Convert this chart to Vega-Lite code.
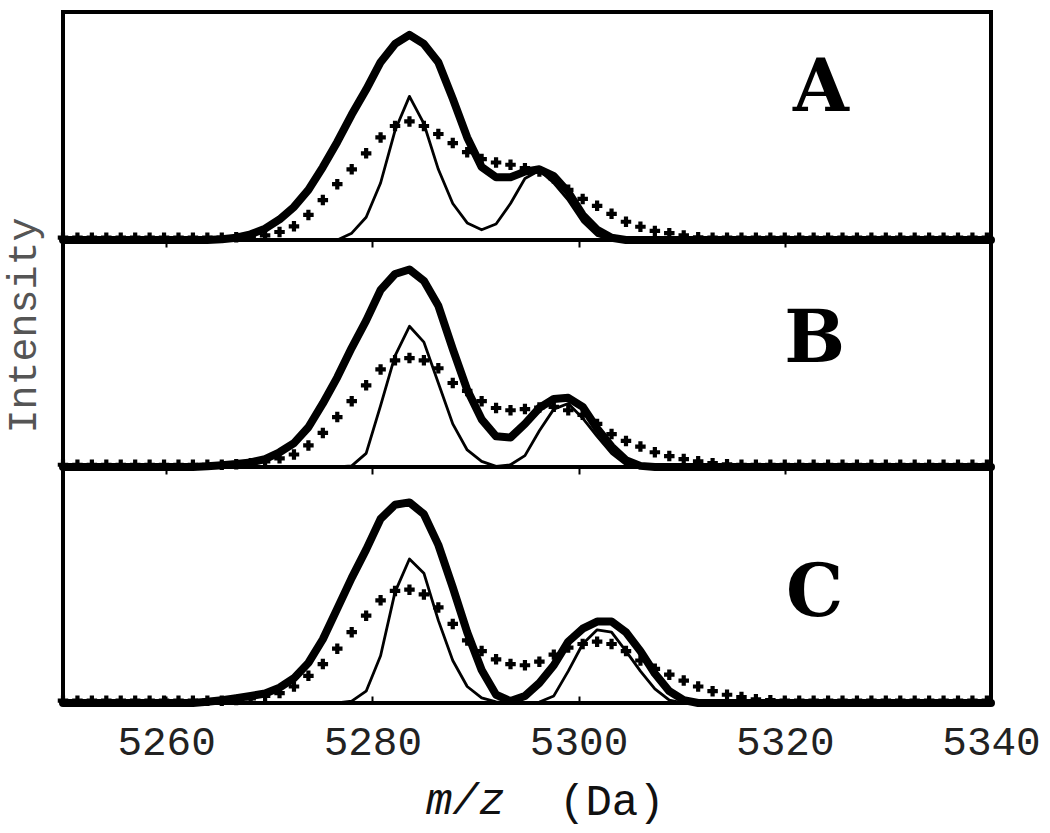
{
  "$schema": "https://vega.github.io/schema/vega-lite/v6.json",
  "background": "white",
  "padding": {"left": 0, "top": 10, "right": 10, "bottom": 0},
  "bounds": "flush",
  "spacing": 0,
  "config": {
    "view": {"stroke": "black", "strokeWidth": 4},
    "axis": {"grid": false},
    "font": "Liberation Mono"
  },
  "title": {"text": "(Da)", "orient": "bottom", "anchor": "start", "frame": "group", "dx": 496, "offset": -44, "font": "Liberation Mono", "fontSize": 44, "fontWeight": "normal", "color": "#111", "baseline": "top"},
  "data": {"values": [
    {"p":"A","m":5250,"k":0,"n":0,"c":0.01},{"p":"A","m":5251.4,"k":0,"n":0,"c":0.01},{"p":"A","m":5252.8,"k":0,"n":0,"c":0.01},{"p":"A","m":5254.2,"k":0,"n":0,"c":0.01},{"p":"A","m":5255.6,"k":0,"n":0,"c":0.01},{"p":"A","m":5257,"k":0,"n":0,"c":0.01},{"p":"A","m":5258.4,"k":0,"n":0,"c":0.01},{"p":"A","m":5259.8,"k":0,"n":0,"c":0.01},{"p":"A","m":5261.2,"k":0,"n":0,"c":0.01},{"p":"A","m":5262.6,"k":0,"n":0,"c":0.01},
    {"p":"A","m":5264,"k":0,"n":0,"c":0.01},{"p":"A","m":5265.4,"k":0.003,"n":0,"c":0.01},{"p":"A","m":5266.8,"k":0.01,"n":0,"c":0.012},{"p":"A","m":5268.2,"k":0.025,"n":0,"c":0.015},{"p":"A","m":5269.6,"k":0.05,"n":0,"c":0.02},{"p":"A","m":5271,"k":0.09,"n":0,"c":0.035},{"p":"A","m":5272.4,"k":0.145,"n":0,"c":0.06},{"p":"A","m":5273.8,"k":0.22,"n":0,"c":0.11},{"p":"A","m":5275.2,"k":0.32,"n":0,"c":0.175},{"p":"A","m":5276.6,"k":0.43,"n":0,"c":0.245},
    {"p":"A","m":5278,"k":0.55,"n":0.03,"c":0.31},{"p":"A","m":5279.4,"k":0.66,"n":0.1,"c":0.38},{"p":"A","m":5280.8,"k":0.78,"n":0.25,"c":0.45},{"p":"A","m":5282.2,"k":0.86,"n":0.48,"c":0.5},{"p":"A","m":5283.6,"k":0.9,"n":0.63,"c":0.52},{"p":"A","m":5285,"k":0.86,"n":0.51,"c":0.5},{"p":"A","m":5286.4,"k":0.78,"n":0.31,"c":0.465},{"p":"A","m":5287.8,"k":0.62,"n":0.16,"c":0.425},{"p":"A","m":5289.2,"k":0.45,"n":0.075,"c":0.385},{"p":"A","m":5290.6,"k":0.32,"n":0.045,"c":0.355},
    {"p":"A","m":5292,"k":0.275,"n":0.07,"c":0.34},{"p":"A","m":5293.4,"k":0.275,"n":0.16,"c":0.33},{"p":"A","m":5294.8,"k":0.3,"n":0.27,"c":0.315},{"p":"A","m":5296.2,"k":0.31,"n":0.305,"c":0.3},{"p":"A","m":5297.6,"k":0.28,"n":0.25,"c":0.27},{"p":"A","m":5299,"k":0.21,"n":0.175,"c":0.22},{"p":"A","m":5300.4,"k":0.11,"n":0.08,"c":0.18},{"p":"A","m":5301.8,"k":0.045,"n":0.02,"c":0.15},{"p":"A","m":5303.2,"k":0.01,"n":0,"c":0.115},{"p":"A","m":5304.6,"k":0,"n":0,"c":0.08},
    {"p":"A","m":5306,"k":0,"n":0,"c":0.058},{"p":"A","m":5307.4,"k":0,"n":0,"c":0.04},{"p":"A","m":5308.8,"k":0,"n":0,"c":0.03},{"p":"A","m":5310.2,"k":0,"n":0,"c":0.02},{"p":"A","m":5311.6,"k":0,"n":0,"c":0.012},{"p":"A","m":5313,"k":0,"n":0,"c":0.01},{"p":"A","m":5314.4,"k":0,"n":0,"c":0.01},{"p":"A","m":5315.8,"k":0,"n":0,"c":0.01},{"p":"A","m":5317.2,"k":0,"n":0,"c":0.01},{"p":"A","m":5318.6,"k":0,"n":0,"c":0.01},
    {"p":"A","m":5320,"k":0,"n":0,"c":0.01},{"p":"A","m":5321.4,"k":0,"n":0,"c":0.01},{"p":"A","m":5322.8,"k":0,"n":0,"c":0.01},{"p":"A","m":5324.2,"k":0,"n":0,"c":0.01},{"p":"A","m":5325.6,"k":0,"n":0,"c":0.01},{"p":"A","m":5327,"k":0,"n":0,"c":0.01},{"p":"A","m":5328.4,"k":0,"n":0,"c":0.01},{"p":"A","m":5329.8,"k":0,"n":0,"c":0.01},{"p":"A","m":5331.2,"k":0,"n":0,"c":0.01},{"p":"A","m":5332.6,"k":0,"n":0,"c":0.01},
    {"p":"A","m":5334,"k":0,"n":0,"c":0.01},{"p":"A","m":5335.4,"k":0,"n":0,"c":0.01},{"p":"A","m":5336.8,"k":0,"n":0,"c":0.01},{"p":"A","m":5338.2,"k":0,"n":0,"c":0.01},{"p":"A","m":5339.6,"k":0,"n":0,"c":0.01},{"p":"A","m":5340,"k":0,"n":0},

    {"p":"B","m":5250,"k":0,"n":0,"c":0.01},{"p":"B","m":5251.4,"k":0,"n":0,"c":0.01},{"p":"B","m":5252.8,"k":0,"n":0,"c":0.01},{"p":"B","m":5254.2,"k":0,"n":0,"c":0.01},{"p":"B","m":5255.6,"k":0,"n":0,"c":0.01},{"p":"B","m":5257,"k":0,"n":0,"c":0.01},{"p":"B","m":5258.4,"k":0,"n":0,"c":0.01},{"p":"B","m":5259.8,"k":0,"n":0,"c":0.01},{"p":"B","m":5261.2,"k":0,"n":0,"c":0.01},{"p":"B","m":5262.6,"k":0,"n":0,"c":0.01},
    {"p":"B","m":5264,"k":0.003,"n":0,"c":0.01},{"p":"B","m":5265.4,"k":0.008,"n":0,"c":0.01},{"p":"B","m":5266.8,"k":0.013,"n":0,"c":0.012},{"p":"B","m":5268.2,"k":0.02,"n":0,"c":0.017},{"p":"B","m":5269.6,"k":0.035,"n":0,"c":0.025},{"p":"B","m":5271,"k":0.065,"n":0,"c":0.038},{"p":"B","m":5272.4,"k":0.105,"n":0,"c":0.055},{"p":"B","m":5273.8,"k":0.175,"n":0,"c":0.095},{"p":"B","m":5275.2,"k":0.28,"n":0,"c":0.15},{"p":"B","m":5276.6,"k":0.395,"n":0,"c":0.22},
    {"p":"B","m":5278,"k":0.525,"n":0.005,"c":0.29},{"p":"B","m":5279.4,"k":0.645,"n":0.06,"c":0.36},{"p":"B","m":5280.8,"k":0.78,"n":0.27,"c":0.43},{"p":"B","m":5282.2,"k":0.85,"n":0.49,"c":0.47},{"p":"B","m":5283.6,"k":0.87,"n":0.62,"c":0.48},{"p":"B","m":5285,"k":0.82,"n":0.55,"c":0.47},{"p":"B","m":5286.4,"k":0.71,"n":0.37,"c":0.435},{"p":"B","m":5287.8,"k":0.52,"n":0.19,"c":0.37},{"p":"B","m":5289.2,"k":0.34,"n":0.075,"c":0.335},{"p":"B","m":5290.6,"k":0.21,"n":0.025,"c":0.29},
    {"p":"B","m":5292,"k":0.135,"n":0.003,"c":0.26},{"p":"B","m":5293.4,"k":0.13,"n":0.01,"c":0.25},{"p":"B","m":5294.8,"k":0.19,"n":0.05,"c":0.255},{"p":"B","m":5296.2,"k":0.26,"n":0.16,"c":0.262},{"p":"B","m":5297.6,"k":0.3,"n":0.255,"c":0.265},{"p":"B","m":5299,"k":0.305,"n":0.28,"c":0.25},{"p":"B","m":5300.4,"k":0.265,"n":0.215,"c":0.23},{"p":"B","m":5301.8,"k":0.17,"n":0.135,"c":0.19},{"p":"B","m":5303.2,"k":0.09,"n":0.06,"c":0.145},{"p":"B","m":5304.6,"k":0.03,"n":0.01,"c":0.115},
    {"p":"B","m":5306,"k":0.005,"n":0,"c":0.09},{"p":"B","m":5307.4,"k":0,"n":0,"c":0.065},{"p":"B","m":5308.8,"k":0,"n":0,"c":0.048},{"p":"B","m":5310.2,"k":0,"n":0,"c":0.035},{"p":"B","m":5311.6,"k":0,"n":0,"c":0.025},{"p":"B","m":5313,"k":0,"n":0,"c":0.017},{"p":"B","m":5314.4,"k":0,"n":0,"c":0.012},{"p":"B","m":5315.8,"k":0,"n":0,"c":0.01},{"p":"B","m":5317.2,"k":0,"n":0,"c":0.01},{"p":"B","m":5318.6,"k":0,"n":0,"c":0.01},
    {"p":"B","m":5320,"k":0,"n":0,"c":0.01},{"p":"B","m":5321.4,"k":0,"n":0,"c":0.01},{"p":"B","m":5322.8,"k":0,"n":0,"c":0.01},{"p":"B","m":5324.2,"k":0,"n":0,"c":0.01},{"p":"B","m":5325.6,"k":0,"n":0,"c":0.01},{"p":"B","m":5327,"k":0,"n":0,"c":0.01},{"p":"B","m":5328.4,"k":0,"n":0,"c":0.01},{"p":"B","m":5329.8,"k":0,"n":0,"c":0.01},{"p":"B","m":5331.2,"k":0,"n":0,"c":0.01},{"p":"B","m":5332.6,"k":0,"n":0,"c":0.01},
    {"p":"B","m":5334,"k":0,"n":0,"c":0.01},{"p":"B","m":5335.4,"k":0,"n":0,"c":0.01},{"p":"B","m":5336.8,"k":0,"n":0,"c":0.01},{"p":"B","m":5338.2,"k":0,"n":0,"c":0.01},{"p":"B","m":5339.6,"k":0,"n":0,"c":0.01},{"p":"B","m":5340,"k":0,"n":0},

    {"p":"C","m":5250,"k":0,"n":0,"c":0.01},{"p":"C","m":5251.4,"k":0,"n":0,"c":0.01},{"p":"C","m":5252.8,"k":0,"n":0,"c":0.01},{"p":"C","m":5254.2,"k":0,"n":0,"c":0.01},{"p":"C","m":5255.6,"k":0,"n":0,"c":0.01},{"p":"C","m":5257,"k":0,"n":0,"c":0.01},{"p":"C","m":5258.4,"k":0,"n":0,"c":0.01},{"p":"C","m":5259.8,"k":0,"n":0,"c":0.01},{"p":"C","m":5261.2,"k":0,"n":0,"c":0.01},{"p":"C","m":5262.6,"k":0,"n":0,"c":0.01},
    {"p":"C","m":5264,"k":0.005,"n":0,"c":0.01},{"p":"C","m":5265.4,"k":0.012,"n":0,"c":0.01},{"p":"C","m":5266.8,"k":0.02,"n":0,"c":0.013},{"p":"C","m":5268.2,"k":0.03,"n":0,"c":0.02},{"p":"C","m":5269.6,"k":0.04,"n":0,"c":0.03},{"p":"C","m":5271,"k":0.065,"n":0,"c":0.042},{"p":"C","m":5272.4,"k":0.105,"n":0,"c":0.07},{"p":"C","m":5273.8,"k":0.17,"n":0,"c":0.115},{"p":"C","m":5275.2,"k":0.27,"n":0,"c":0.165},{"p":"C","m":5276.6,"k":0.4,"n":0,"c":0.23},
    {"p":"C","m":5278,"k":0.53,"n":0.008,"c":0.3},{"p":"C","m":5279.4,"k":0.65,"n":0.05,"c":0.37},{"p":"C","m":5280.8,"k":0.78,"n":0.2,"c":0.435},{"p":"C","m":5282.2,"k":0.84,"n":0.47,"c":0.475},{"p":"C","m":5283.6,"k":0.85,"n":0.61,"c":0.48},{"p":"C","m":5285,"k":0.8,"n":0.55,"c":0.46},{"p":"C","m":5286.4,"k":0.67,"n":0.35,"c":0.405},{"p":"C","m":5287.8,"k":0.49,"n":0.18,"c":0.335},{"p":"C","m":5289.2,"k":0.3,"n":0.07,"c":0.265},{"p":"C","m":5290.6,"k":0.14,"n":0.022,"c":0.22},
    {"p":"C","m":5292,"k":0.035,"n":0.005,"c":0.185},{"p":"C","m":5293.4,"k":0.008,"n":0,"c":0.165},{"p":"C","m":5294.8,"k":0.03,"n":0,"c":0.16},{"p":"C","m":5296.2,"k":0.085,"n":0.004,"c":0.175},{"p":"C","m":5297.6,"k":0.16,"n":0.03,"c":0.205},{"p":"C","m":5299,"k":0.26,"n":0.135,"c":0.235},{"p":"C","m":5300.4,"k":0.315,"n":0.25,"c":0.25},{"p":"C","m":5301.8,"k":0.345,"n":0.31,"c":0.26},{"p":"C","m":5303.2,"k":0.345,"n":0.3,"c":0.25},{"p":"C","m":5304.6,"k":0.3,"n":0.22,"c":0.22},
    {"p":"C","m":5306,"k":0.22,"n":0.135,"c":0.18},{"p":"C","m":5307.4,"k":0.125,"n":0.06,"c":0.145},{"p":"C","m":5308.8,"k":0.05,"n":0.012,"c":0.12},{"p":"C","m":5310.2,"k":0.012,"n":0,"c":0.095},{"p":"C","m":5311.6,"k":0,"n":0,"c":0.07},{"p":"C","m":5313,"k":0,"n":0,"c":0.05},{"p":"C","m":5314.4,"k":0,"n":0,"c":0.035},{"p":"C","m":5315.8,"k":0,"n":0,"c":0.025},{"p":"C","m":5317.2,"k":0,"n":0,"c":0.016},{"p":"C","m":5318.6,"k":0,"n":0,"c":0.012},
    {"p":"C","m":5320,"k":0,"n":0,"c":0.01},{"p":"C","m":5321.4,"k":0,"n":0,"c":0.01},{"p":"C","m":5322.8,"k":0,"n":0,"c":0.01},{"p":"C","m":5324.2,"k":0,"n":0,"c":0.01},{"p":"C","m":5325.6,"k":0,"n":0,"c":0.01},{"p":"C","m":5327,"k":0,"n":0,"c":0.01},{"p":"C","m":5328.4,"k":0,"n":0,"c":0.01},{"p":"C","m":5329.8,"k":0,"n":0,"c":0.01},{"p":"C","m":5331.2,"k":0,"n":0,"c":0.01},{"p":"C","m":5332.6,"k":0,"n":0,"c":0.01},
    {"p":"C","m":5334,"k":0,"n":0,"c":0.01},{"p":"C","m":5335.4,"k":0,"n":0,"c":0.01},{"p":"C","m":5336.8,"k":0,"n":0,"c":0.01},{"p":"C","m":5338.2,"k":0,"n":0,"c":0.01},{"p":"C","m":5339.6,"k":0,"n":0,"c":0.01},{"p":"C","m":5340,"k":0,"n":0},

    {"p":"A","lab":"A","lm":5323.5,"lv":0.664},
    {"p":"B","lab":"B","lm":5322.9,"lv":0.559},
    {"p":"C","lab":"C","lm":5322.9,"lv":0.462}
  ]},
  "vconcat": [
    {
      "width": 928, "height": 228,
      "transform": [{"filter": "datum.p === 'A'"}],
      "layer": [
        {"transform": [{"filter": "isValid(datum.c)"}],
         "mark": {"type": "point", "shape": "cross", "filled": true, "size": 110, "color": "black", "opacity": 1},
         "encoding": {
           "x": {"field": "m", "type": "quantitative", "scale": {"domain": [5250, 5340], "nice": false, "zero": false},
                 "axis": {"values": [5260, 5280, 5300, 5320, 5340], "title": null, "labels": false, "tickSize": 7, "tickColor": "black", "tickWidth": 2, "domain": false}},
           "y": {"field": "c", "type": "quantitative", "scale": {"domain": [0, 1], "nice": false}, "axis": null}}},
        {"transform": [{"filter": "isValid(datum.n)"}],
         "mark": {"type": "line", "color": "black", "strokeWidth": 2.8, "strokeJoin": "round"},
         "encoding": {"x": {"field": "m", "type": "quantitative"}, "y": {"field": "n", "type": "quantitative"}}},
        {"transform": [{"filter": "isValid(datum.k)"}],
         "mark": {"type": "line", "color": "black", "strokeWidth": 8, "strokeJoin": "round", "strokeCap": "round"},
         "encoding": {"x": {"field": "m", "type": "quantitative"}, "y": {"field": "k", "type": "quantitative"}}},
        {"transform": [{"filter": "isValid(datum.lab)"}],
         "mark": {"type": "text", "font": "DejaVu Serif", "fontSize": 72, "fontWeight": "bold", "color": "black", "baseline": "middle", "align": "center"},
         "encoding": {"x": {"field": "lm", "type": "quantitative"}, "y": {"field": "lv", "type": "quantitative"}, "text": {"field": "lab"}}}
      ]
    },
    {
      "width": 928, "height": 227,
      "transform": [{"filter": "datum.p === 'B'"}],
      "layer": [
        {"transform": [{"filter": "isValid(datum.c)"}],
         "mark": {"type": "point", "shape": "cross", "filled": true, "size": 110, "color": "black", "opacity": 1},
         "encoding": {
           "x": {"field": "m", "type": "quantitative", "scale": {"domain": [5250, 5340], "nice": false, "zero": false},
                 "axis": {"values": [5260, 5280, 5300, 5320, 5340], "title": null, "labels": false, "tickSize": 7, "tickColor": "black", "tickWidth": 2, "domain": false}},
           "y": {"field": "c", "type": "quantitative", "scale": {"domain": [0, 1], "nice": false},
                 "axis": {"title": "Intensity", "labels": false, "ticks": false, "domain": false, "titleFont": "Liberation Mono", "titleFontSize": 40, "titleFontWeight": "normal", "titleColor": "#555", "titleY": 85, "titleX": -20}}}},
        {"transform": [{"filter": "isValid(datum.n)"}],
         "mark": {"type": "line", "color": "black", "strokeWidth": 2.8, "strokeJoin": "round"},
         "encoding": {"x": {"field": "m", "type": "quantitative"}, "y": {"field": "n", "type": "quantitative"}}},
        {"transform": [{"filter": "isValid(datum.k)"}],
         "mark": {"type": "line", "color": "black", "strokeWidth": 8, "strokeJoin": "round", "strokeCap": "round"},
         "encoding": {"x": {"field": "m", "type": "quantitative"}, "y": {"field": "k", "type": "quantitative"}}},
        {"transform": [{"filter": "isValid(datum.lab)"}],
         "mark": {"type": "text", "font": "DejaVu Serif", "fontSize": 72, "fontWeight": "bold", "color": "black", "baseline": "middle", "align": "center"},
         "encoding": {"x": {"field": "lm", "type": "quantitative"}, "y": {"field": "lv", "type": "quantitative"}, "text": {"field": "lab"}}}
      ]
    },
    {
      "width": 928, "height": 236,
      "transform": [{"filter": "datum.p === 'C'"}],
      "layer": [
        {"transform": [{"filter": "isValid(datum.c)"}],
         "mark": {"type": "point", "shape": "cross", "filled": true, "size": 110, "color": "black", "opacity": 1},
         "encoding": {
           "x": {"field": "m", "type": "quantitative", "scale": {"domain": [5250, 5340], "nice": false, "zero": false},
                 "axis": {"values": [5260, 5280, 5300, 5320, 5340], "format": "d", "title": "m/z", "titleFont": "Liberation Mono", "titleFontSize": 44, "titleFontStyle": "italic", "titleFontWeight": "normal", "titleColor": "#111", "titleX": 402, "titlePadding": 16, "labelFont": "Liberation Mono", "labelFontSize": 41, "labelColor": "#222", "labelPadding": 26, "labelFlush": false, "tickSize": -7, "tickColor": "black", "tickWidth": 2, "domain": false}},
           "y": {"field": "c", "type": "quantitative", "scale": {"domain": [0, 1], "nice": false}, "axis": null}}},
        {"transform": [{"filter": "isValid(datum.n)"}],
         "mark": {"type": "line", "color": "black", "strokeWidth": 2.8, "strokeJoin": "round"},
         "encoding": {"x": {"field": "m", "type": "quantitative"}, "y": {"field": "n", "type": "quantitative"}}},
        {"transform": [{"filter": "isValid(datum.k)"}],
         "mark": {"type": "line", "color": "black", "strokeWidth": 8, "strokeJoin": "round", "strokeCap": "round"},
         "encoding": {"x": {"field": "m", "type": "quantitative"}, "y": {"field": "k", "type": "quantitative"}}},
        {"transform": [{"filter": "isValid(datum.lab)"}],
         "mark": {"type": "text", "font": "DejaVu Serif", "fontSize": 72, "fontWeight": "bold", "color": "black", "baseline": "middle", "align": "center"},
         "encoding": {"x": {"field": "lm", "type": "quantitative"}, "y": {"field": "lv", "type": "quantitative"}, "text": {"field": "lab"}}}
      ]
    }
  ]
}
